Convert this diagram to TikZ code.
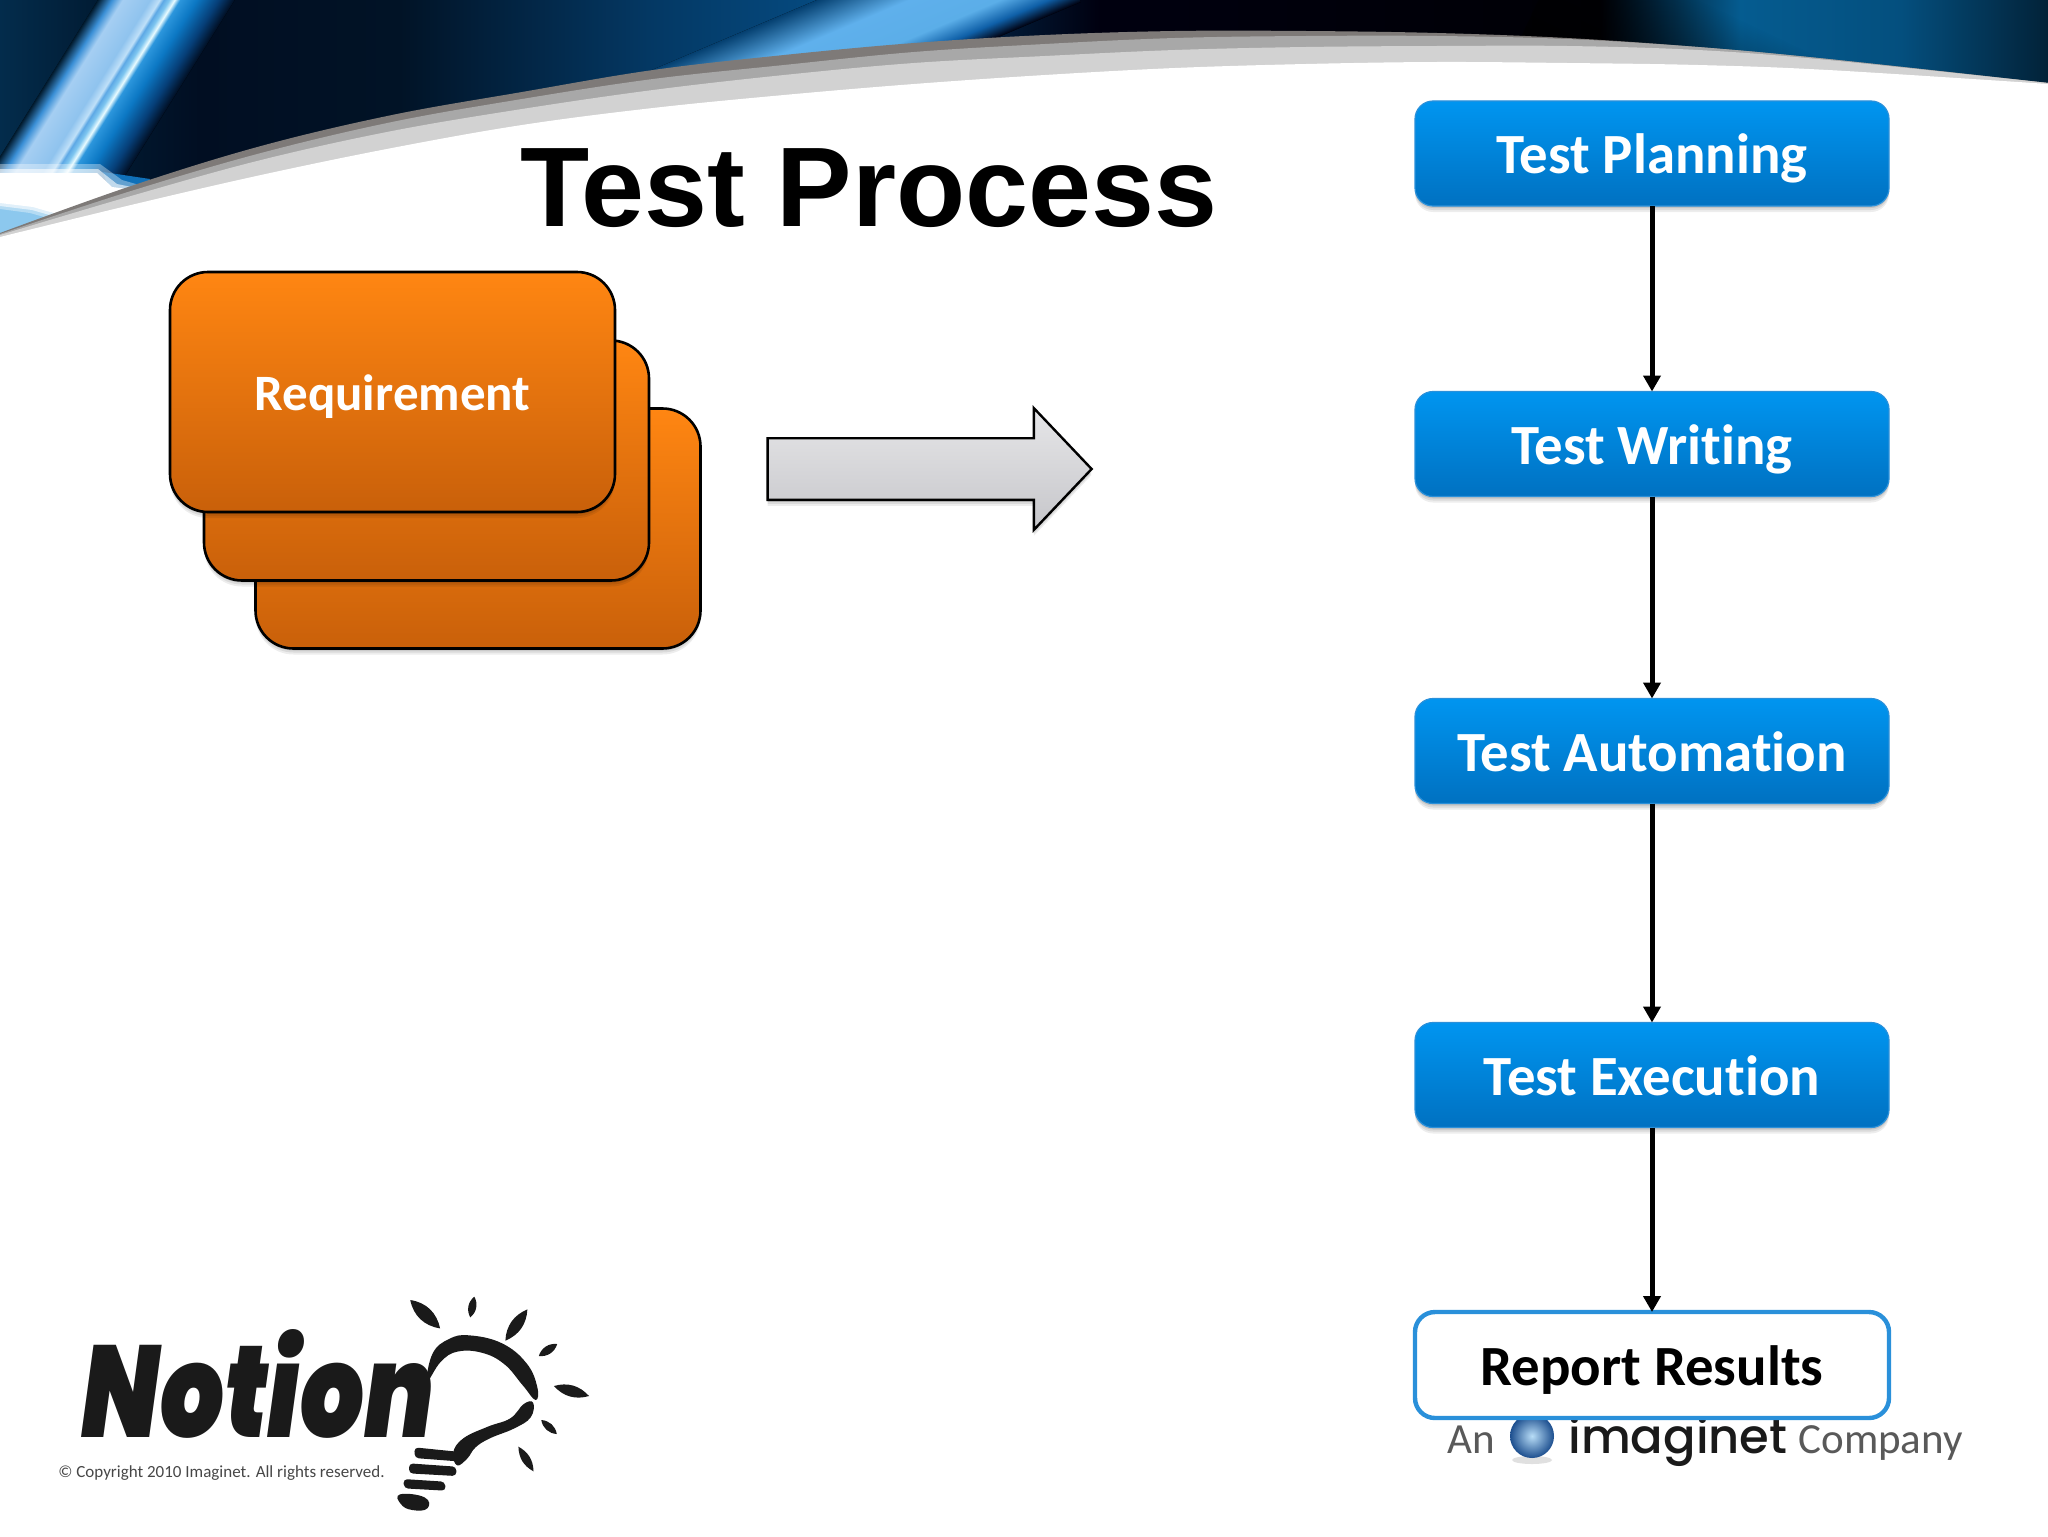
\documentclass[tikz,border=0pt]{standalone}
\usepackage{fontspec}
\usepackage{graphicx}
\usetikzlibrary{arrows.meta,shapes.arrows,shadows,fadings}
\setmainfont{Carlito}[Ligatures=NoCommon]
\newfontfamily\arialfam{Liberation Sans}
\IfFontExistsTF{Poppins Medium}{\newfontfamily\logofam{Poppins Medium}}{\newfontfamily\logofam{Poppins}}
\IfFontExistsTF{Poppins Black Italic}{\newfontfamily\notionfam{Poppins Black Italic}}{\newfontfamily\notionfam{Liberation Sans Bold Italic}}

\definecolor{bluetop}{HTML}{0095F0}
\definecolor{bluebot}{HTML}{0071C1}
\definecolor{bluerim}{HTML}{2A90DA}
\definecolor{orangetop}{HTML}{FF8612}
\definecolor{orangebot}{HTML}{C9600A}
\definecolor{arrowtop}{HTML}{E6E6E8}
\definecolor{arrowbot}{HTML}{C6C6CA}
\definecolor{bandA}{HTML}{7E7A78}
\definecolor{bandB}{HTML}{A8A8A8}
\definecolor{bandC}{HTML}{D2D2D2}
\definecolor{logoblack}{HTML}{1A1A1A}
\definecolor{blobblue}{HTML}{8CC8EE}
\definecolor{patchblue}{HTML}{1070B8}
\definecolor{globedark}{HTML}{1C4E8E}
\definecolor{globelight}{HTML}{B8DDF7}

% tikz maps the path box on 25bp..75bp of these
\pgfdeclarehorizontalshading{headerbg}{100bp}{
  rgb(0bp)=(0.012,0.173,0.298); rgb(25bp)=(0.012,0.173,0.298);
  rgb(27.44bp)=(0.004,0.106,0.200); rgb(29.88bp)=(0.004,0.055,0.133);
  rgb(34.77bp)=(0.004,0.075,0.150); rgb(40.87bp)=(0.016,0.220,0.390);
  rgb(45.02bp)=(0.020,0.290,0.500); rgb(51.86bp)=(0,0,0.06);
  rgb(64.06bp)=(0,0,0.02); rgb(67.48bp)=(0.020,0.360,0.565);
  rgb(71.39bp)=(0.016,0.310,0.495); rgb(75bp)=(0.008,0.133,0.220);
  rgb(100bp)=(0.008,0.133,0.220)}
\pgfdeclarehorizontalshading{rayleft}{100bp}{
  rgb(0bp)=(0.008,0.110,0.190); rgb(25bp)=(0.008,0.110,0.190);
  rgb(30bp)=(0.227,0.561,0.839); rgb(34bp)=(0.647,0.808,0.949);
  rgb(44bp)=(0.561,0.765,0.933); rgb(47.5bp)=(0.749,0.878,0.973);
  rgb(49bp)=(0.365,0.659,0.898); rgb(51bp)=(0.494,0.776,0.941);
  rgb(53bp)=(0.910,0.984,1); rgb(55bp)=(0.173,0.588,0.863);
  rgb(61bp)=(0.047,0.471,0.769); rgb(69bp)=(0.024,0.247,0.471);
  rgb(75bp)=(0.004,0.055,0.133); rgb(100bp)=(0.004,0.055,0.133)}
\pgfdeclarehorizontalshading{raymid}{100bp}{
  rgb(0bp)=(0.018,0.250,0.440); rgb(25bp)=(0.018,0.250,0.440);
  rgb(42bp)=(0.373,0.690,0.925); rgb(59bp)=(0.357,0.682,0.910);
  rgb(68bp)=(0.059,0.376,0.659); rgb(75bp)=(0,0,0.055);
  rgb(100bp)=(0,0,0.055)}

\tikzset{
  softsh/.style={
    general shadow={fill=black,opacity=.07,shadow yshift=-3pt},
    general shadow={fill=black,opacity=.08,shadow yshift=-2pt},
    general shadow={fill=black,opacity=.10,shadow yshift=-1pt}},
  bluebox/.style={rectangle,rounded corners=9pt,minimum width=237pt,minimum height=52.5pt,
    inner sep=0pt,outer sep=0pt,draw=bluerim,line width=.6pt,
    top color=bluetop,bottom color=bluebot,softsh,
    font=\fontsize{28.4}{30}\selectfont\bfseries,text=white,text height=20pt,text depth=0pt},
  whitebox/.style={rectangle,rounded corners=10pt,minimum width=237pt,minimum height=53pt,
    inner sep=0pt,outer sep=0pt,draw=bluerim,line width=2.2pt,fill=white,
    font=\fontsize{28.4}{30}\selectfont\bfseries,text=black,text height=20pt,text depth=0pt},
  orangebox/.style={rectangle,rounded corners=19pt,minimum width=222.5pt,minimum height=120pt,
    inner sep=0pt,outer sep=0pt,draw=black,line width=1.3pt,
    top color=orangetop,bottom color=orangebot,softsh,
    font=\fontsize{25.5}{28}\selectfont\bfseries,text=white,text height=18pt,text depth=0pt},
  flow/.style={-{Triangle[width=8.5pt,length=8pt]},line width=2.5pt,black},
  leaf/.style={fill=logoblack}
}

\begin{document}
\begin{tikzpicture}[x=.5pt,y=-.5pt]
  \useasboundingbox (0,0) rectangle (2048,1536);
  \fill[white] (0,0) rectangle (2048,1536);

  % header background and light rays
  \fill[shading=headerbg] (0,0) rectangle (2048,240);
  \begin{scope}[transform canvas={shift={(57,175)},rotate=-32}]
    \fill[shading=rayleft] (-58,70) rectangle (58,-260);
  \end{scope}
  \begin{scope}[transform canvas={shift={(820,53)},rotate=-67}]
    \fill[shading=raymid] (-50,260) rectangle (55,-260);
  \end{scope}
  \begin{scope}[transform canvas={shift={(1605,0)},rotate=64.7}]
    \fill[black,path fading=east] (-130,-60) rectangle (40,260);
  \end{scope}
  \fill[patchblue] (103,172) -- (150,179) -- (145,192) -- (110,192) -- cycle;
  \fill[blobblue] (0,200) -- (33,205) -- (60,216) -- (30,232) -- (0,242) -- cycle;
  \fill[white,opacity=.35] (0,164) -- (100,164) -- (122,180) -- (150,188) -- (62,222) -- (30,213) -- (0,209) -- cycle;
  \fill[white,opacity=.6] (0,169) -- (98,169) -- (117,184) -- (142,189) -- (60,218) -- (32,210) -- (0,206) -- cycle;
  \fill[white] (0,173) -- (97,173) -- (112,187) -- (135,190) -- (57,214) -- (33,207) -- (0,203) -- cycle;

  % curved band
  \fill[bandA] plot[smooth,tension=.6] coordinates {(0,233) (131,186) (261,146) (392,115) (522,92) (653,70) (784,55) (914,43) (1045,35) (1175,31) (1306,31) (1437,33) (1567,38) (1698,47) (1828,59) (2048,83)} -- (2048,300) -- (0,300) -- cycle;
  \fill[bandB] plot[smooth,tension=.6] coordinates {(0,234) (131,191) (261,153) (392,122) (522,99) (653,79) (784,65) (914,52) (1045,44) (1175,38) (1306,36) (1437,36) (1567,39) (1698,47) (1828,59) (2048,83)} -- (2048,300) -- (0,300) -- cycle;
  \fill[bandC] plot[smooth,tension=.6] coordinates {(0,235) (131,196) (261,160) (392,131) (522,109) (653,90) (784,75) (914,63) (1045,56) (1175,50) (1306,47) (1437,46) (1567,46) (1698,50) (1828,60) (2048,83)} -- (2048,300) -- (0,300) -- cycle;
  \fill[white] plot[smooth,tension=.6] coordinates {(0,237) (131,205) (261,175) (392,148) (522,125) (653,108) (784,95) (914,84) (1045,75) (1175,68) (1306,64) (1437,62) (1567,63) (1698,65) (1828,70) (2048,84)} -- (2048,320) -- (0,320) -- cycle;

  % title
  \node[font=\arialfam\fontsize{56.6}{60}\selectfont\bfseries,anchor=base] (title) at (869,226) {Test Process};

  % requirement stack
  \node[orangebox] (req3) at (478,528.5) {};
  \node[orangebox] (req2) at (426.5,460.5) {};
  \node[orangebox] (req1) at (392.5,392) {Requirement};

  % big arrow
  \node[single arrow,minimum height=162pt,single arrow head extend=15pt,
    single arrow tip angle=93,inner xsep=0pt,inner ysep=14.8pt,outer sep=0pt,draw=black,line width=1.2pt,
    top color=arrowtop,bottom color=arrowbot,softsh] (bigarrow) at (915,469) {};

  % imaginet line sits under the report box
  \node[font=\fontsize{21.5}{24}\selectfont,text=black!65,anchor=base west,inner sep=0pt] (an) at (1447,1453) {An};
  \fill[black!12] (1532,1460) ellipse [x radius=20,y radius=4];
  \shade[inner color=globelight,outer color=globedark] (1532,1436) circle [radius=22];
  \node[font=\logofam\fontsize{24}{26}\selectfont,text=logoblack,anchor=base west,inner sep=0pt] (imag) at (1568,1453) {imaginet};
  \node[font=\fontsize{21.5}{24}\selectfont,text=black!65,anchor=base west,inner sep=0pt] (comp) at (1798,1453) {Company};

  % process column
  \node[bluebox] (plan) at (1652,153.5) {Test Planning};
  \node[bluebox] (write) at (1652,444) {Test Writing};
  \node[bluebox] (auto) at (1652,751) {Test Automation};
  \node[bluebox] (exec) at (1652,1075) {Test Execution};
  \node[whitebox] (report) at (1652,1365) {Report Results};
  \draw[flow] (plan) -- (write);
  \draw[flow] (write) -- (auto);
  \draw[flow] (auto) -- (exec);
  \draw[flow] (exec) -- (report);

  % notion logo
  \node[font=\notionfam\fontsize{72}{76}\selectfont,text=logoblack,anchor=base,inner sep=0pt] (notion) at (258,1437) {\resizebox{176pt}{54pt}{Notion}};
  \node[font=\fontsize{8.5}{10}\selectfont,text=black!72,anchor=base west,inner sep=0pt] (copy) at (58,1477) {© Copyright 2010 Imaginet. All rights reserved.};
  \begin{scope}[shift={(0,1260)},x=.2041pt,y=-.16667pt]
    \fill[leaf] (1005,120) to[bend left=35] (1078,205) to[bend left=35] (1005,120);
    \fill[leaf] (1162,110) to[bend left=40] (1152,172) to[bend left=40] (1162,110);
    \fill[leaf] (1292,148) to[bend left=32] (1238,242) to[bend left=32] (1292,148);
    \fill[leaf] (1365,252) to[bend left=40] (1320,288) to[bend left=40] (1365,252);
    \fill[leaf] (1357,378) to[bend left=32] (1443,408) to[bend left=32] (1357,378);
    \fill[leaf] (1326,480) to[bend left=38] (1364,522) to[bend left=38] (1326,480);
    \fill[leaf] (1270,560) to[bend left=30] (1307,634) to[bend left=30] (1270,560);
    % bulb glass
    \fill[leaf] plot[smooth cycle,tension=.7] coordinates {(1047,362) (1060,280) (1100,237) (1150,226) (1230,250) (1290,310) (1316,380) (1312,420) (1280,375) (1235,312) (1180,278) (1120,275) (1080,305)};
    \fill[leaf] plot[smooth cycle,tension=.7] coordinates {(1306,428) (1300,472) (1260,505) (1200,535) (1165,562) (1145,595) (1120,616) (1110,578) (1135,535) (1195,500) (1250,475) (1283,432)};
    % bulb base
    \fill[leaf,rounded corners=2pt] (1015,562) -- (1120,575) -- (1122,604) -- (1016,594) -- cycle;
    \fill[leaf,rounded corners=2pt] (1002,610) -- (1118,620) -- (1118,648) -- (1002,640) -- cycle;
    \fill[leaf,rounded corners=2pt] (988,657) -- (1090,665) -- (1092,692) -- (990,685) -- cycle;
    \fill[leaf] plot[smooth cycle,tension=.8] coordinates {(980,703) (1040,712) (1047,745) (1010,750) (982,732)};
  \end{scope}
\end{tikzpicture}
\end{document}
